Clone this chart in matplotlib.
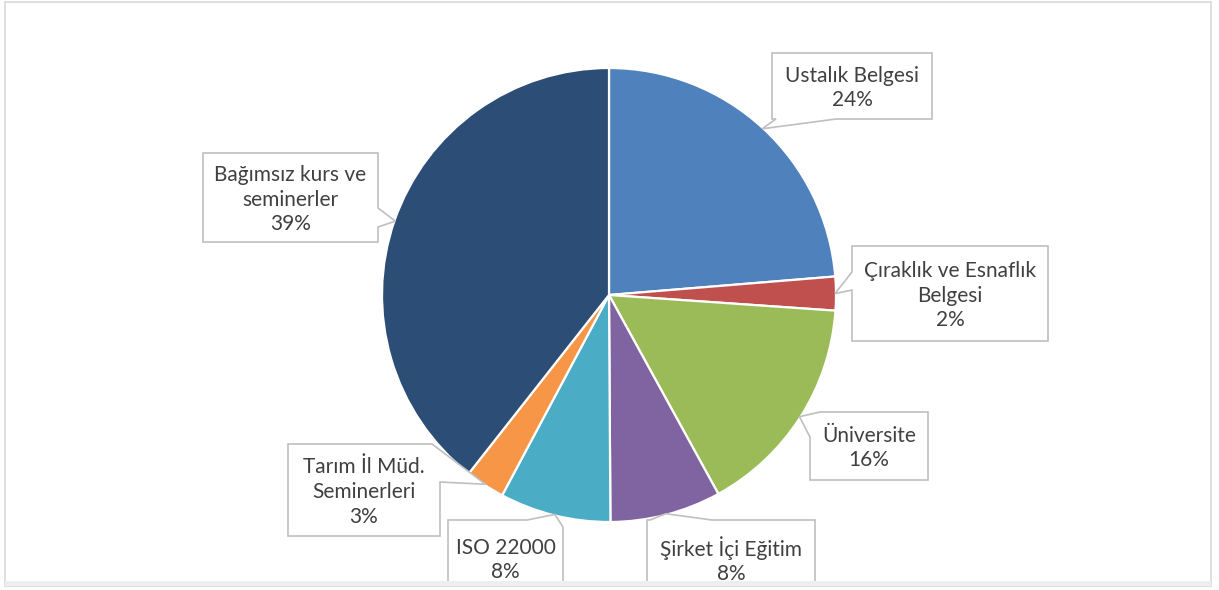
import numpy as np
import matplotlib
matplotlib.use("Agg")
import matplotlib.pyplot as plt
from matplotlib.patches import Polygon, Rectangle

W, H = 1219, 590

# values (clockwise from 12 o'clock)
categories = ["Ustalık Belgesi", "Çıraklık ve Esnaflık\nBelgesi", "Üniversite",
              "Şirket İçi Eğitim", "ISO 22000", "Tarım İl Müd.\nSeminerleri",
              "Bağımsız kurs ve\nseminerler"]
shares = [23.7, 2.4, 15.9, 7.9, 7.9, 2.8, 39.4]
colors = ["#4F81BD", "#C0504D", "#9BBB59", "#8064A2", "#4BACC6", "#F79646", "#2C4D75"]

# label boxes in pixel coords (x0, y0, x1, y1), plus the two points where the
# callout pointer leaves the box, listed clockwise
boxes = [(772, 53, 932, 119), (852, 246, 1048, 341), (810, 412, 928, 480),
         (647, 520, 815, 610), (448, 520, 563, 610), (288, 444, 440, 536),
         (203, 153, 378, 242)]
bases = [((836, 119), (776, 119)), ((852, 290), (852, 272)), ((810, 437), (820, 412)),
         ((650, 520), (712, 520)), ((527, 520), (563, 527)), ((432, 444), (440, 482)),
         ((378, 208), (378, 227))]

cx, cy, r = 609, 295, 227
txt_color = "#404040"
plt.rcParams['font.family'] = ['Lato', 'DejaVu Sans']


def perim_t(box, p):
    x0, y0, x1, y1 = box
    x, y = p
    if abs(y - y0) < 0.5:
        return (x - x0) / (x1 - x0)
    if abs(x - x1) < 0.5:
        return 1 + (y - y0) / (y1 - y0)
    if abs(y - y1) < 0.5:
        return 2 + (x1 - x) / (x1 - x0)
    return 3 + (y1 - y) / (y1 - y0)


def callout_verts(box, b_from, b_to, tip):
    x0, y0, x1, y1 = box
    corners = [(x0, y0), (x1, y0), (x1, y1), (x0, y1)]
    ta = perim_t(box, b_from)
    tb = perim_t(box, b_to)
    if tb < ta:
        tb += 4
    verts = [b_from, tip, b_to]
    for k in range(9):
        if tb < k < ta + 4:
            verts.append(corners[k % 4])
    return verts


fig = plt.figure(figsize=(W / 100, H / 100), dpi=100)
ax = fig.add_axes([0, 0, 1, 1])

wedges, _ = ax.pie(shares, colors=colors, startangle=-90, counterclock=True,
                   center=(cx, cy), radius=r,
                   wedgeprops=dict(edgecolor="white", linewidth=1.6))

ax.set_aspect("auto")
ax.set_xlim(0, W)
ax.set_ylim(H, 0)
ax.axis("off")

clip = Rectangle((5, 2), 1206, 579, transform=ax.transData)

for w, cat, v, box, (bf, bt) in zip(wedges, categories, shares, boxes, bases):
    mid = np.deg2rad((w.theta1 + w.theta2) / 2)
    tip = (cx + (r - 1) * np.cos(mid), cy + (r - 1) * np.sin(mid))
    poly = Polygon(callout_verts(box, bf, bt, tip), closed=True, facecolor="white",
                   edgecolor="#BFBFBF", linewidth=1.2, zorder=3)
    ax.add_patch(poly)
    poly.set_clip_path(clip)
    x0, y0, x1, y1 = box
    ytxt = (y0 + y1) / 2 + 2 if y1 < H else y0 + 40
    t = ax.text((x0 + x1) / 2, ytxt, f"{cat}\n{round(v)}%", ha="center", va="center",
                multialignment="center", fontsize=15, color=txt_color,
                linespacing=1.3, zorder=4)
    t.set_clip_path(clip)

# chart area border
ax.add_patch(Rectangle((5, 2), 1206, 584, fill=False, edgecolor="#D9D9D9",
                       linewidth=1.2, zorder=5))
ax.add_patch(Rectangle((5, 581), 1206, 5, facecolor="#EEEEEE", edgecolor="none",
                       zorder=5))

fig.savefig("out.png", dpi=100)
